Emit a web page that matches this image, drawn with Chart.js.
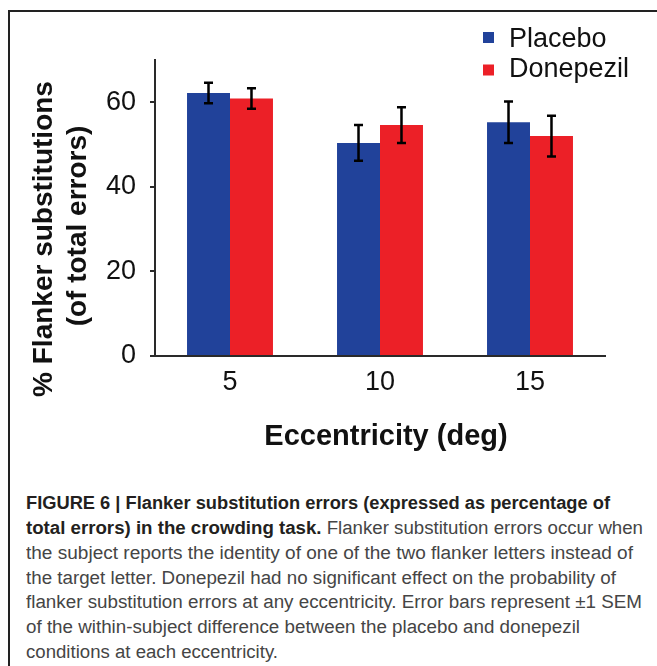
<!DOCTYPE html>
<html>
<head>
<meta charset="utf-8">
<script src="https://cdn.jsdelivr.net/npm/chart.js@4/dist/chart.umd.min.js"></script>
<style>
  html, body { margin: 0; padding: 0; background: #fff; }
  body { width: 657px; height: 666px; position: relative; overflow: hidden; }
  #frame { position: absolute; left: 8px; top: 10px; right: -10px; bottom: -10px;
           border-top: 2px solid #222; border-left: 2px solid #222; }
  #wrap { position: absolute; left: 0; top: 0; width: 657px; height: 470px; }
  .cap { position: absolute; left: 26px; white-space: nowrap; font-size: 18px; line-height: 24px;
         font-family: "Liberation Sans Narrow", "Arial Narrow", "Liberation Sans", Arial, sans-serif;
         color: #454545; transform-origin: 0 50%; }
  .cap b { color: #231f20; font-weight: bold; }
</style>
</head>
<body>
<div id="frame"></div>
<div id="wrap"><canvas id="c"></canvas></div>
<div class="cap" data-w="584" style="top:491px"><b>FIGURE 6 | Flanker substitution errors (expressed as percentage of</b></div>
<div class="cap" data-w="617" style="top:516px"><b>total errors) in the crowding task.</b> Flanker substitution errors occur when</div>
<div class="cap" data-w="607" style="top:541px">the subject reports the identity of one of the two flanker letters instead of</div>
<div class="cap" data-w="590" style="top:566px">the target letter. Donepezil had no significant effect on the probability of</div>
<div class="cap" data-w="616" style="top:590px">flanker substitution errors at any eccentricity. Error bars represent ±1 SEM</div>
<div class="cap" data-w="554" style="top:615px">of the within-subject difference between the placebo and donepezil</div>
<div class="cap" data-w="252" style="top:640px">conditions at each eccentricity.</div>
<script>
// ---- data ----
const categories = ['5', '10', '15'];
const seriesNames = ['Placebo', 'Donepezil'];
const placebo = [62.2, 50.4, 55.3];
const donepezil = [60.9, 54.6, 52.0];
const placeboErr = [2.4, 4.2, 4.9];
const donepezilErr = [2.4, 4.2, 4.8];
const yTicks = [0, 20, 40, 60];
const xTitle = 'Eccentricity (deg)';
const yTitle1 = '% Flanker substitutions';
const yTitle2 = '(of total errors)';

const FONT = '"Liberation Sans", Arial, Helvetica, sans-serif';
const BLUE = '#21429a';
const RED = '#ec2027';

const errorBars = {
  id: 'errorBars',
  afterDatasetsDraw(chart) {
    const ctx = chart.ctx, y = chart.scales.y;
    const errs = [placeboErr, donepezilErr];
    chart.data.datasets.forEach((ds, i) => {
      const meta = chart.getDatasetMeta(i);
      meta.data.forEach((el, j) => {
        const v = ds.data[j], e = errs[i][j];
        const t = y.getPixelForValue(v + e), b = y.getPixelForValue(v - e);
        ctx.save();
        ctx.strokeStyle = '#000';
        ctx.lineWidth = 2.5;
        ctx.beginPath();
        ctx.moveTo(el.x, t); ctx.lineTo(el.x, b);
        ctx.moveTo(el.x - 4.5, t); ctx.lineTo(el.x + 4.5, t);
        ctx.moveTo(el.x - 4.5, b); ctx.lineTo(el.x + 4.5, b);
        ctx.stroke();
        ctx.restore();
      });
    });
  }
};

const extras = {
  id: 'extras',
  afterDraw(chart) {
    const ctx = chart.ctx;
    ctx.save();
    // legend
    const legY = [[37.5, 46.7], [70, 76.7]];
    chart.data.datasets.forEach((ds, i) => {
      ctx.fillStyle = ds.backgroundColor;
      ctx.fillRect(483, legY[i][0] - 5.5, 11, 11);
      ctx.fillStyle = '#111';
      ctx.font = '27px ' + FONT;
      ctx.textAlign = 'left';
      ctx.textBaseline = 'alphabetic';
      ctx.fillText(ds.label, 509, legY[i][1]);
    });
    // x title
    ctx.fillStyle = '#111';
    ctx.font = 'bold 29px ' + FONT;
    ctx.textAlign = 'center';
    ctx.textBaseline = 'middle';
    ctx.fillText(xTitle, 386, 437);
    // y title (two lines)
    ctx.font = 'bold 28px ' + FONT;
    ctx.textBaseline = 'alphabetic';
    ctx.save();
    ctx.translate(52, 239); ctx.rotate(-Math.PI / 2);
    ctx.fillText(yTitle1, 0, 0);
    ctx.restore();
    ctx.save();
    ctx.translate(86, 226); ctx.rotate(-Math.PI / 2);
    ctx.fillText(yTitle2, 0, 0);
    ctx.restore();
    ctx.restore();
  }
};

new Chart(document.getElementById('c'), {
  type: 'bar',
  data: {
    labels: categories,
    datasets: [
      { label: seriesNames[0], data: placebo, backgroundColor: BLUE, borderWidth: 0 },
      { label: seriesNames[1], data: donepezil, backgroundColor: RED, borderWidth: 0 }
    ]
  },
  options: {
    responsive: true,
    maintainAspectRatio: false,
    animation: false,
    layout: { padding: { top: 60, right: 52, bottom: 12, left: 0 } },
    datasets: { bar: { categoryPercentage: 0.573, barPercentage: 1.0 } },
    plugins: { legend: { display: false }, tooltip: { enabled: false }, title: { display: false } },
    scales: {
      x: {
        grid: { display: true, drawOnChartArea: false, drawTicks: false },
        border: { display: true, color: '#2a2a2a', width: 2 },
        ticks: { color: '#111', font: { family: FONT, size: 27 }, padding: 10 },
        afterFit(s) { s.height = 102; }
      },
      y: {
        min: 0, max: 70,
        afterBuildTicks(s) { s.ticks = yTicks.map(v => ({ value: v })); },
        grid: { display: true, drawOnChartArea: false, drawTicks: true, tickLength: 5, color: '#2a2a2a', lineWidth: 2 },
        border: { display: true, color: '#2a2a2a', width: 2 },
        ticks: { color: '#111', font: { family: FONT, size: 27 }, padding: 14 },
        afterFit(s) { s.width = 155; }
      }
    }
  },
  plugins: [errorBars, extras]
});

// fit caption lines to their measured widths
function fitCaption() {
  document.querySelectorAll('.cap').forEach(el => {
    el.style.transform = 'none';
    const w = el.getBoundingClientRect().width;
    const target = +el.dataset.w;
    if (w > 0) el.style.transform = 'scaleX(' + (target / w) + ')';
  });
}
fitCaption();
if (document.fonts && document.fonts.ready) document.fonts.ready.then(fitCaption);
</script>
</body>
</html>
